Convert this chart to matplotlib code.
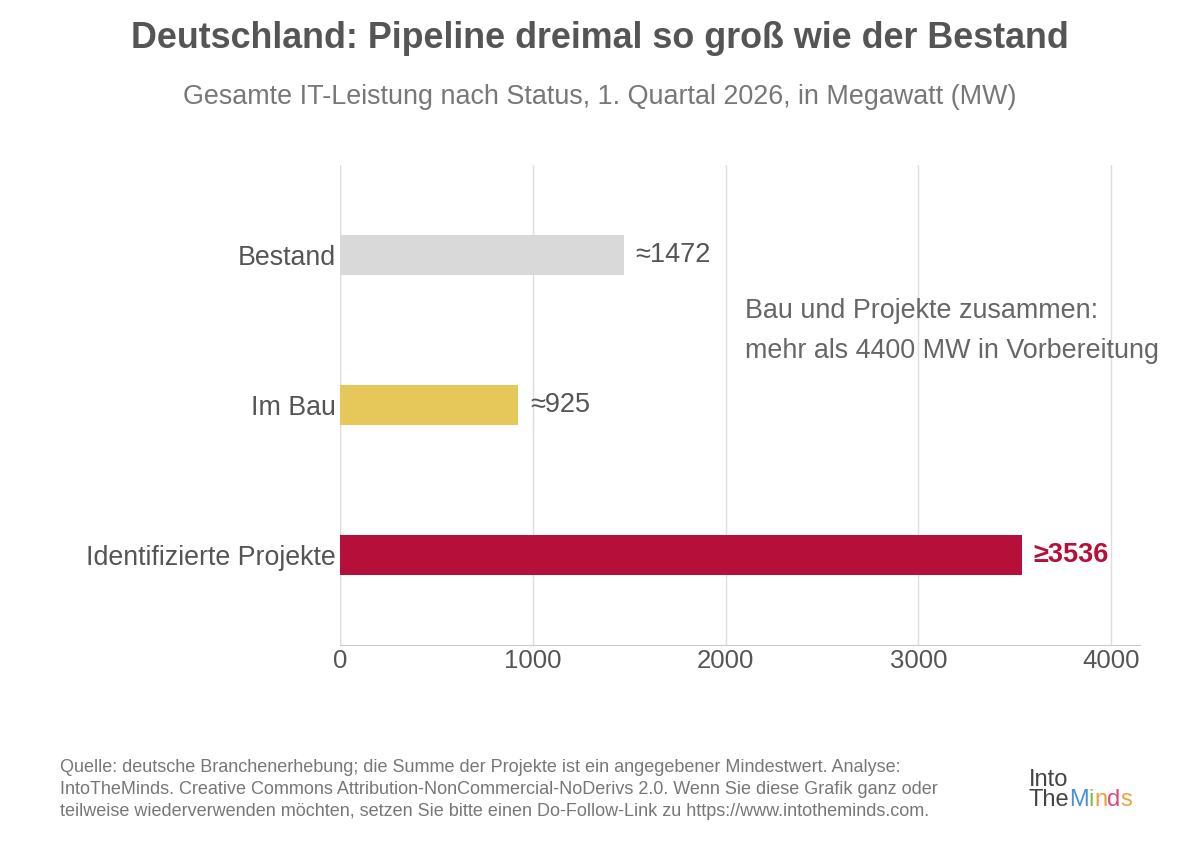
import matplotlib.pyplot as plt

plt.rcParams['font.family'] = ['Liberation Sans', 'DejaVu Sans']

# data
categories = ["Bestand", "Im Bau", "Identifizierte Projekte"]
values = [1472, 925, 3536]
labels = ["≈1472", "≈925", "≥3536"]
colors = ["#d9d9d9", "#e5c75a", "#b50f3a"]
label_colors = ["#555555", "#555555", "#b50f3a"]
ticks = [0, 1000, 2000, 3000, 4000]

fig = plt.figure(figsize=(12, 8.41), dpi=100)
ax = fig.add_axes([0.2833, 0.2331, 0.6667, 0.5707])

ypos = range(len(categories))
ax.barh(ypos, values, height=0.27, color=colors, zorder=3)
for i, (v, lab) in enumerate(zip(values, labels)):
    ax.text(v + 60, i, lab, va='center', ha='left', fontsize=19.5,
            color=label_colors[i], fontweight='bold' if i == 2 else 'normal')

ax.set_yticks(list(ypos))
ax.set_yticklabels(categories, fontsize=19.3, color="#555555")
ax.set_ylim(2.6, -0.6)
ax.set_xlim(0, 4150)
ax.set_xticks(ticks)
ax.set_xticklabels([str(t) for t in ticks], fontsize=18.5, color="#555555")
ax.tick_params(axis='y', length=0, pad=3)
ax.tick_params(axis='x', length=0, pad=3)
ax.grid(axis='x', color="#dddddd", linewidth=1, zorder=0)
for s in ['top', 'right', 'left']:
    ax.spines[s].set_visible(False)
ax.spines['bottom'].set_color("#cccccc")
ax.axvline(0, color="#dddddd", linewidth=1, zorder=1)

ax.text(2100, 0.51, "Bau und Projekte zusammen:\nmehr als 4400 MW in Vorbereitung",
        fontsize=19.4, color="#666666", va='center', ha='left', linespacing=1.7,
        zorder=4)

fig.text(0.5, 0.954, "Deutschland: Pipeline dreimal so groß wie der Bestand",
         ha='center', va='center', fontsize=25.8, fontweight='bold', color="#555555")
fig.text(0.5, 0.885, "Gesamte IT-Leistung nach Status, 1. Quartal 2026, in Megawatt (MW)",
         ha='center', va='center', fontsize=19.4, color="#777777")

fig.text(0.05, 0.098,
         "Quelle: deutsche Branchenerhebung; die Summe der Projekte ist ein angegebener Mindestwert. Analyse:\n"
         "IntoTheMinds. Creative Commons Attribution-NonCommercial-NoDerivs 2.0. Wenn Sie diese Grafik ganz oder\n"
         "teilweise wiederverwenden möchten, setzen Sie bitte einen Do-Follow-Link zu https://www.intotheminds.com.",
         ha='left', va='top', fontsize=13, color="#777777", linespacing=1.4)

# logo
fig.text(0.857, 0.073, "Into", fontsize=17, color="#444444", ha='left', va='center')
logo_parts = [("The", "#444444"), ("M", "#4a90d9"), ("i", "#7cc04b"),
              ("n", "#e8a33c"), ("d", "#d9487a"), ("s", "#e8a33c")]
x = 0.857
for part, c in logo_parts:
    t = fig.text(x, 0.049, part, fontsize=17, color=c, ha='left', va='center')
    fig.canvas.draw()
    bb = t.get_window_extent()
    x += bb.width / fig.bbox.width

fig.savefig("out.png", dpi=100)
